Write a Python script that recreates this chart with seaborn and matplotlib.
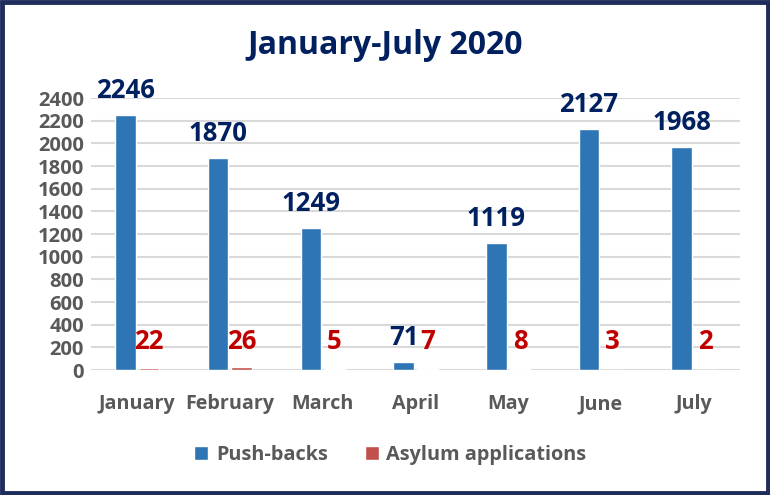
import matplotlib
matplotlib.use("Agg")
import matplotlib.pyplot as plt
import seaborn as sns
import pandas as pd
from matplotlib.patches import Rectangle

months = ["January", "February", "March", "April", "May", "June", "July"]
push_backs = [2246, 1870, 1249, 71, 1119, 2127, 1968]
asylum = [22, 26, 5, 7, 8, 3, 2]
series_names = ["Push-backs", "Asylum applications"]
yticks = list(range(0, 2401, 200))

df = pd.DataFrame({
    "Month": months * 2,
    "Value": push_backs + asylum,
    "Series": [series_names[0]] * len(months) + [series_names[1]] * len(months),
})

sns.set_theme(style="white")
plt.rcParams["font.family"] = ["Open Sans", "DejaVu Sans"]
plt.rcParams["font.weight"] = "bold"

BLUE = "#2E75B6"
RED = "#C0504D"
NAVY = "#002060"
DRED = "#C00000"
GRAY = "#595959"

fig = plt.figure(figsize=(7.7, 4.95), dpi=100)
ax = fig.add_axes([0.118, 0.2525, 0.843, 0.5495])

sns.barplot(data=df, x="Month", y="Value", hue="Series", order=months,
            hue_order=series_names, palette=[BLUE, RED], width=0.51, gap=0.13,
            ax=ax, legend=True, saturation=1)

ax.set_ylim(0, 2400)
ax.set_yticks(yticks)
ax.set_yticklabels([str(t) for t in yticks], fontsize=14.5, fontweight="bold", color=GRAY)
ax.set_xticks(range(len(months)))
ax.set_xticklabels(months, fontsize=14.2, fontweight="bold", color=GRAY)
ax.tick_params(axis="x", length=0, pad=17.5)
ax.tick_params(axis="y", length=0, pad=5)
ax.set_xlabel("")
ax.set_ylabel("")
ax.set_xlim(-0.5, len(months) - 0.5)
ax.grid(axis="y", color="#D9D9D9", linewidth=1.5)
ax.set_axisbelow(True)
for s in ax.spines.values():
    s.set_visible(False)

# data labels
blue_bars = ax.containers[0]
red_bars = ax.containers[1]
for rect, v in zip(blue_bars, push_backs):
    ax.annotate(str(v), (rect.get_x() + rect.get_width() / 2, rect.get_height()),
                xytext=(0, 8), textcoords="offset points", ha="center", va="bottom",
                fontsize=18.5, fontweight="bold", color=NAVY, annotation_clip=False)
for rect, v in zip(red_bars, asylum):
    ax.annotate(str(v), (rect.get_x() + rect.get_width() / 2, 0),
                xytext=(0, 11), textcoords="offset points", ha="center", va="bottom",
                fontsize=18.5, fontweight="bold", color=DRED, annotation_clip=False)

# legend
handles, labels = ax.get_legend_handles_labels()
ax.get_legend().remove()
fig.legend(handles, labels, loc="center", bbox_to_anchor=(0.507, 0.08), ncol=2,
           frameon=False, prop={"size": 14.3, "weight": "bold"}, labelcolor=GRAY,
           handlelength=0.7, handleheight=0.7, columnspacing=1.85, handletextpad=0.4)

fig.text(0.5, 0.908, "January-July 2020", ha="center", va="center",
         fontsize=23, fontweight="bold", color=NAVY)

# border
fig.patches.append(Rectangle((0.003, 0.004), 0.994, 0.992, transform=fig.transFigure,
                             fill=False, edgecolor="#1F2D5C", linewidth=3.5))

fig.savefig("out.png", dpi=100)
